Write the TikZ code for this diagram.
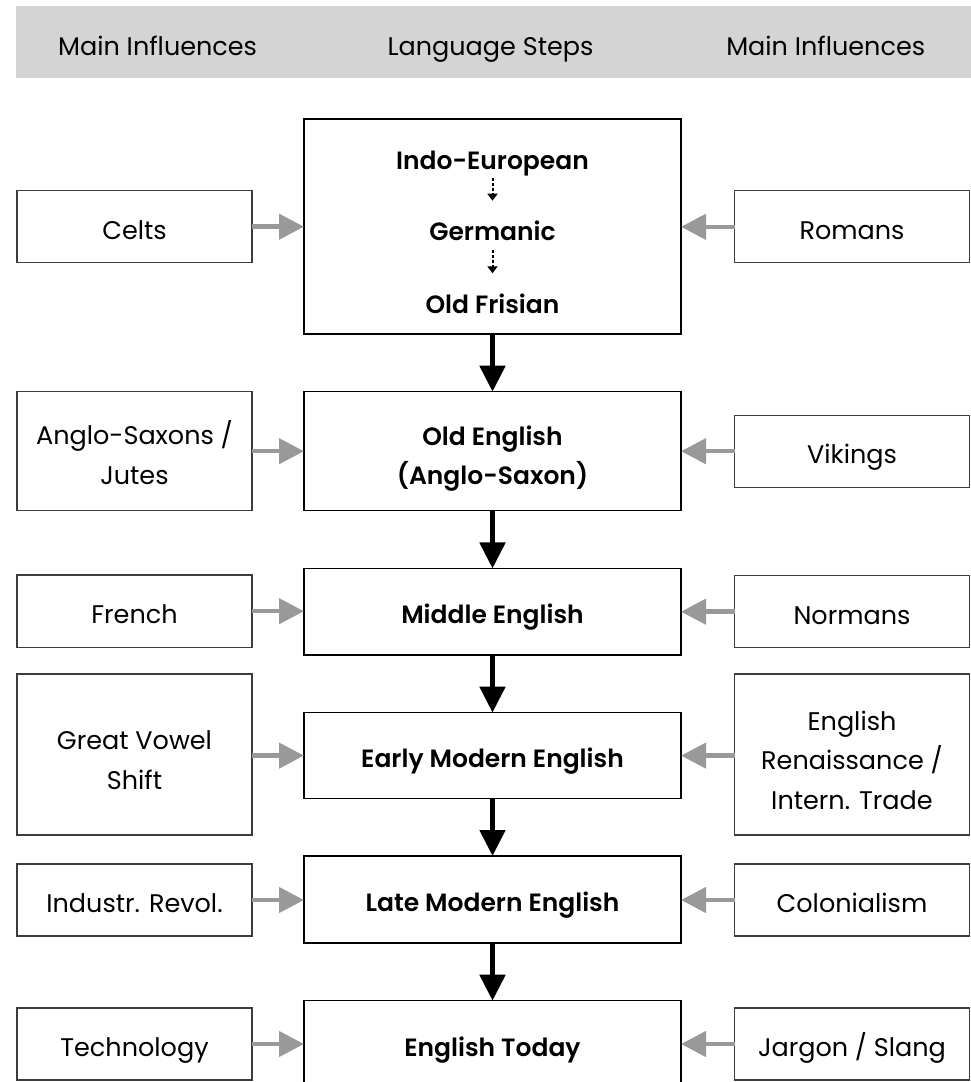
\documentclass[tikz,border=0pt]{standalone}
\usepackage{fontspec}
\setmainfont{Poppins}[BoldFont={Poppins SemiBold}]
\usetikzlibrary{arrows.meta}
\definecolor{band}{HTML}{D4D4D4}
\definecolor{garrow}{HTML}{999999}
\definecolor{sideedge}{HTML}{3C3C3C}
\begin{document}
\begin{tikzpicture}[x=1pt,y=-1pt,
  every node/.style={inner sep=0pt, outer sep=0pt},
  stepbox/.style={draw=black, line width=1.4pt, minimum width=377pt, align=center, text height=24pt, text depth=0pt, font=\fontsize{25}{38.5}\selectfont\bfseries},
  steptext/.style={font=\fontsize{25}{30}\selectfont\bfseries, anchor=base},
  sidebox/.style={draw=sideedge, line width=1.2pt, minimum width=235pt, align=center, text height=25pt, text depth=0pt, font=\fontsize{25.5}{39.5}\selectfont},
  hdr/.style={font=\fontsize{25.5}{30}\selectfont, anchor=base},
  inarrow/.style={draw=garrow, line width=4.5pt, -{Triangle[length=25pt,width=25pt]}},
  flowarrow/.style={draw=black, line width=5pt, -{Triangle[length=26pt,width=25pt]}},
  subarrow/.style={draw=black, line width=2pt, dash pattern=on 3pt off 2pt, -{Triangle[length=7pt,width=10pt]}}
]
\useasboundingbox (0,0) rectangle (971,1082);
\fill[white] (0,0) rectangle (971,1082);
\clip (0,0) rectangle (971,1082);
% header band
\fill[band] (15.5,6) rectangle (975,78);
\node[hdr] (h1) at (157.6,55) {Main Influences};
\node[hdr] (h2) at (490.5,55) {Language Steps};
\node[hdr] (h3) at (825.7,55) {Main Influences};
% language steps
\node[stepbox, minimum height=215pt] (s1) at (492.5,226.5) {};
\node[steptext] (ie) at (492.5,169.3) {Indo-European};
\node[steptext] (gm) at (492.5,240.7) {Germanic};
\node[steptext] (of) at (492.5,313.3) {Old Frisian};
\draw[subarrow] ([yshift=-9pt]ie.base) -- ([yshift=40pt]gm.base);
\draw[subarrow] ([yshift=-9pt]gm.base) -- ([yshift=40pt]of.base);
\node[stepbox, minimum height=119pt, text height=66.5pt] (s2) at (492.5,451.2) {Old English\\(Anglo-Saxon)};
\node[stepbox, minimum height=86.5pt] (s3) at (492.5,611.7) {Middle English};
\node[stepbox, minimum height=86pt] (s4) at (492.5,755.6) {Early Modern English};
\node[stepbox, minimum height=87pt] (s5) at (492.5,899.5) {Late Modern English};
\node[stepbox, minimum height=87pt] (s6) at (492.5,1044.2) {English Today};
% left influences
\node[sidebox, minimum height=72pt] (celts) at (134.5,226.7) {Celts};
\node[sidebox, minimum height=119pt, text height=66.2pt] (anglo) at (134.5,451.2) {Anglo-Saxons /\\Jutes};
\node[sidebox, minimum height=72.5pt] (french) at (134.5,611.2) {French};
\node[sidebox, minimum height=161pt, text height=69pt] (gvs) at (134.5,754.5) {Great Vowel\\Shift};
\node[sidebox, minimum height=72pt] (indus) at (134.5,900) {Industr. Revol.};
\node[sidebox, minimum height=72pt] (tech) at (134.5,1044) {Technology};
% right influences
\node[sidebox, minimum height=72pt] (romans) at (852,226.8) {Romans};
\node[sidebox, minimum height=72pt] (vikings) at (852,451.2) {Vikings};
\node[sidebox, minimum height=72pt] (normans) at (852,611.7) {Normans};
\node[sidebox, minimum height=161pt, text height=109.6pt] (renais) at (852,754.5) {English\\Renaissance /\\Intern. Trade};
\node[sidebox, minimum height=72pt] (colon) at (852,900) {Colonialism};
\node[sidebox, minimum height=72pt] (jargon) at (852,1044) {Jargon / Slang};
% flow arrows
\draw[flowarrow] (s1.south) -- (s2.north);
\draw[flowarrow] (s2.south) -- (s3.north);
\draw[flowarrow] (s3.south) -- (s4.north);
\draw[flowarrow] (s4.south) -- (s5.north);
\draw[flowarrow] (s5.south) -- (s6.north);
% influence arrows
\draw[inarrow] (celts.east) -- (celts.east -| s1.west);
\draw[inarrow] (anglo.east) -- (anglo.east -| s2.west);
\draw[inarrow] (french.east) -- (french.east -| s3.west);
\draw[inarrow] (s4.west -| gvs.east) -- (s4.west);
\draw[inarrow] (indus.east) -- (indus.east -| s5.west);
\draw[inarrow] (tech.east) -- (tech.east -| s6.west);
\draw[inarrow] (romans.west) -- (romans.west -| s1.east);
\draw[inarrow] (vikings.west) -- (vikings.west -| s2.east);
\draw[inarrow] (normans.west) -- (normans.west -| s3.east);
\draw[inarrow] (s4.east -| renais.west) -- (s4.east);
\draw[inarrow] (colon.west) -- (colon.west -| s5.east);
\draw[inarrow] (jargon.west) -- (jargon.west -| s6.east);
\end{tikzpicture}
\end{document}
